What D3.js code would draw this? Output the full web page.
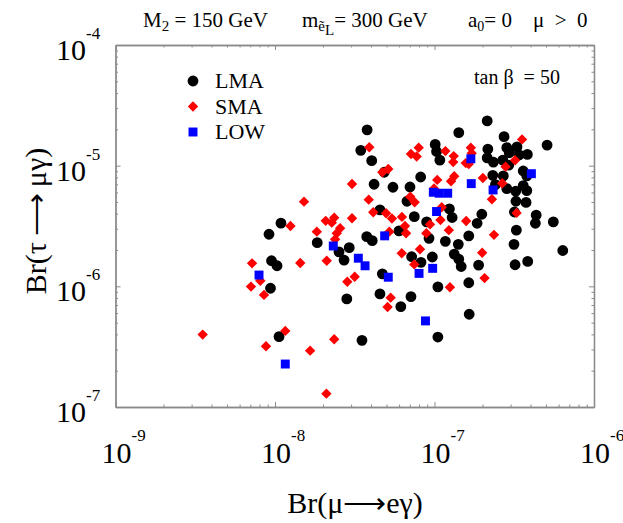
<!DOCTYPE html>
<html><head><meta charset="utf-8">
<script src="https://cdn.jsdelivr.net/npm/d3@7"></script>
<style>
body{margin:0;background:#fff}
svg{display:block}
text{font-family:"Liberation Serif","Times New Roman",serif;fill:#000}
</style>
</head><body>
<svg id="chart" width="623" height="523"></svg>
<script>
// Br(mu -> e gamma) and Br(tau -> mu gamma) for each solution class
const lmaBrMuE = [3.78e-8,3.45e-8,4.04e-8,1.01e-7,1.03e-7,1.08e-7,4.84e-8,8.19e-8,4.18e-8,5.49e-8,
  7.02e-8,6.72e-8,4.55e-8,7.47e-8,8.93e-8,2.14e-7,1.42e-7,2.73e-7,5.08e-7,2.16e-7,
  2.84e-7,3.29e-7,2.94e-7,3.39e-7,3.82e-7,2.14e-7,2.34e-7,2.68e-7,2.92e-7,3.60e-7,
  3.79e-7,2.32e-7,2.70e-7,2.41e-7,2.84e-7,3.23e-7,3.60e-7,3.79e-7,3.24e-7,3.75e-7,
  1.24e-7,1.29e-7,1.98e-7,3.17e-7,4.34e-7,5.56e-7,1.85e-7,4.29e-7,9.24e-8,3.26e-7,
  1.64e-7,1.17e-7,1.41e-7,3.15e-7,6.37e-7,1.33e-7,1.42e-7,1.47e-7,9.69e-8,8.23e-8,
  1.89e-7,3.20e-7,3.84e-7,1.64e-7,1.05e-7,1.65e-7,1.09e-8,9.17e-9,1.84e-8,2.52e-8,
  2.92e-8,2.71e-8,9.51e-9,1.03e-8,9.37e-9,2.82e-8,3.76e-8,4.07e-8,4.71e-8,4.55e-8,
  7.12e-8,6.15e-8,5.99e-8,7.19e-8,1.06e-8,3.51e-8,1.05e-7];
const lmaBrTauMu = [1.98e-5,1.34e-5,1.10e-5,1.50e-5,1.31e-5,1.11e-5,8.82e-6,8.06e-6,7.01e-6,6.62e-6,
  6.66e-6,5.07e-6,4.30e-6,3.78e-6,3.42e-6,2.35e-5,1.88e-5,1.74e-5,1.48e-5,1.37e-5,
  1.41e-5,1.43e-5,1.28e-5,1.23e-5,1.24e-5,1.16e-5,1.07e-5,1.11e-5,1.01e-5,9.04e-6,
  8.22e-6,8.32e-6,8.22e-6,6.96e-6,6.45e-6,6.14e-6,6.83e-6,6.21e-6,5.07e-6,4.96e-6,
  4.38e-6,3.72e-6,3.96e-6,4.13e-6,3.89e-6,3.42e-6,3.33e-6,3.33e-6,2.50e-6,2.92e-6,
  2.62e-6,2.36e-6,2.23e-6,2.23e-6,1.98e-6,1.85e-6,1.68e-6,1.46e-6,1.75e-6,1.58e-6,
  1.50e-6,1.51e-6,1.61e-6,1.07e-6,9.89e-7,5.87e-7,3.34e-6,2.70e-6,2.30e-6,1.93e-6,
  2.09e-6,1.65e-6,1.63e-6,1.48e-6,9.64e-7,7.86e-7,2.58e-6,2.39e-6,1.27e-6,8.65e-7,
  8.22e-7,6.79e-7,2.88e-6,1.76e-6,3.83e-7,3.57e-7,3.80e-7];

const smaBrMuE = [3.90e-8,7.96e-8,7.12e-8,7.73e-8,4.71e-8,5.13e-8,1.04e-7,3.04e-8,9.93e-8,1.52e-8,
  3.87e-8,7.05e-8,7.51e-8,4.13e-8,4.97e-8,5.41e-8,6.25e-8,2.35e-8,2.08e-8,3.04e-8,
  3.54e-7,1.17e-7,1.69e-7,1.71e-7,1.32e-7,1.31e-7,1.57e-7,1.64e-7,3.20e-7,2.79e-7,
  2.01e-7,1.33e-7,1.27e-7,2.66e-7,2.29e-7,1.11e-7,3.27e-7,1.58e-7,1.09e-7,9.37e-8,
  8.89e-8,1.23e-7,2.36e-7,8.11e-8,1.99e-7,2.06e-7,1.25e-7,1.25e-8,1.83e-8,2.27e-8,
  2.56e-8,2.44e-8,2.38e-8,2.11e-8,1.44e-8,3.16e-8,2.84e-8,6.53e-8,6.63e-8,5.21e-8,
  6.23e-8,7.47e-8,5.31e-8,5.08e-8,7.18e-9,8.09e-9,7.07e-9,8.53e-9,3.52e-9,8.78e-9,
  1.16e-8,1.66e-8,2.35e-8,2.10e-8];
const smaBrTauMu = [1.42e-5,1.41e-5,1.25e-5,1.19e-5,8.82e-6,9.39e-6,7.62e-6,7.05e-6,6.47e-6,5.03e-6,
  5.23e-6,5.53e-6,4.98e-6,4.11e-6,4.03e-6,3.65e-6,3.76e-6,3.70e-6,3.49e-6,3.67e-6,
  1.65e-5,1.32e-5,1.41e-5,1.27e-5,1.20e-5,1.07e-5,1.05e-5,1.03e-5,1.11e-5,9.81e-6,
  7.91e-6,8.17e-6,7.43e-6,7.15e-6,5.27e-6,4.52e-6,4.06e-6,3.48e-6,3.55e-6,3.26e-6,
  2.75e-6,2.92e-6,2.67e-6,2.03e-6,1.90e-6,1.17e-6,9.83e-7,3.16e-6,2.84e-6,3.37e-6,
  3.03e-6,2.75e-6,2.45e-6,1.63e-6,1.56e-6,1.20e-6,1.09e-6,3.16e-6,2.75e-6,2.84e-6,
  1.88e-6,1.52e-6,8.06e-7,6.75e-7,1.55e-6,1.11e-6,9.95e-7,8.49e-7,3.98e-7,3.19e-7,
  4.27e-7,2.93e-7,3.64e-7,1.29e-7];

const lowBrMuE = [9.83e-8,1.03e-7,1.69e-7,4.05e-7,1.70e-7,2.33e-7,1.07e-7,1.21e-7,9.74e-8,8.00e-8,
  8.78e-8,2.32e-8,3.33e-8,3.67e-8,4.87e-8,5.13e-8,7.94e-9,1.16e-8];
const lowBrTauMu = [6.02e-6,4.17e-6,1.14e-5,8.58e-6,7.10e-6,6.29e-6,5.91e-6,5.91e-6,1.41e-6,1.28e-6,
  5.17e-7,2.16e-6,1.71e-6,1.48e-6,2.62e-6,1.19e-6,1.24e-6,2.27e-7];

const seriesNames = ["LMA","SMA","LOW"];
const xTickExps = [-9,-8,-7,-6];
const yTickExps = [-7,-6,-5,-4];

const svg = d3.select("#chart");
const L = 115.5, R = 594, T = 45, B = 407;
const x = d3.scaleLog().domain([1e-9,1e-6]).range([L,R]);
const y = d3.scaleLog().domain([1e-7,1e-4]).range([B,T]);

const majorsX = xTickExps.map(e => Math.pow(10,e));
const majorsY = yTickExps.map(e => Math.pow(10,e));
function minors(exps){ const out=[]; for(let i=0;i<exps.length-1;i++){ for(let m=2;m<=9;m++) out.push(m*Math.pow(10,exps[i])); } return out; }
const minorsX = minors(xTickExps), minorsY = minors(yTickExps);

const axisColor = "#8a8a8a";
function styleAxis(g){ g.selectAll("path").attr("stroke",axisColor).attr("stroke-width",1.3); g.selectAll("line").attr("stroke",axisColor).attr("stroke-width",1); g.selectAll("text").remove(); }

// frame axes (ticks inward)
const defs = [
  [d3.axisBottom, x, B, "x"], [d3.axisTop, x, T, "x"],
  [d3.axisLeft, y, L, "y"], [d3.axisRight, y, R, "y"]
];
defs.forEach(([fn, sc, pos, dir]) => {
  const maj = dir==="x"?majorsX:majorsY, mn = dir==="x"?minorsX:minorsY;
  const tr = dir==="x" ? `translate(0,${pos})` : `translate(${pos},0)`;
  svg.append("g").attr("transform",tr).call(fn(sc).tickValues(mn).tickSize(-2.5).tickSizeOuter(0).tickFormat("")).call(styleAxis);
  svg.append("g").attr("transform",tr).call(fn(sc).tickValues(maj).tickSize(-5).tickSizeOuter(0).tickFormat("")).call(styleAxis);
});

// tick labels 10^n
xTickExps.forEach(e => {
  const px = x(Math.pow(10,e));
  const t = svg.append("text").attr("x",px-14).attr("y",463).attr("font-size",30);
  t.append("tspan").text("10");
  t.append("tspan").attr("font-size",17).attr("dy",-22).text(String(e));
});
yTickExps.forEach(e => {
  const py = y(Math.pow(10,e));
  const t = svg.append("text").attr("x",56).attr("y",py+15).attr("font-size",30);
  t.append("tspan").text("10");
  t.append("tspan").attr("font-size",17).attr("dy",-21).text(String(e));
});

// axis titles
svg.append("text").attr("x",355).attr("y",513).attr("font-size",30).attr("text-anchor","middle")
  .text("Br(\u03bc\u27f6e\u03b3)");
svg.append("text").attr("transform","translate(46,221) rotate(-90)").attr("font-size",30).attr("text-anchor","middle")
  .text("Br(\u03c4\u2009\u27f6\u2009\u03bc\u03b3)");

// header
const hs = 21;
const h1 = svg.append("text").attr("x",143).attr("y",27).attr("font-size",hs);
h1.append("tspan").text("M");
h1.append("tspan").attr("font-size",15).attr("dy",4).text("2");
h1.append("tspan").attr("dy",-4).text(" = 150 GeV");
const h2 = svg.append("text").attr("x",302).attr("y",27).attr("font-size",hs);
h2.append("tspan").text("m");
h2.append("tspan").attr("font-size",15).attr("dy",4).text("\u1ebd");
h2.append("tspan").attr("font-size",15).attr("dy",4).text("L");
h2.append("tspan").attr("dy",-8).text("= 300 GeV");
const h3 = svg.append("text").attr("x",468).attr("y",27).attr("font-size",hs);
h3.append("tspan").text("a");
h3.append("tspan").attr("font-size",14).attr("dy",4).text("0");
h3.append("tspan").attr("dy",-4).text("= 0");
svg.append("text").attr("x",533).attr("y",27).attr("font-size",hs).attr("xml:space","preserve").text("\u03bc  >  0");

svg.append("text").attr("x",474).attr("y",84).attr("font-size",20).attr("xml:space","preserve").text("tan \u03b2  = 50");

// markers
const colors = {LMA:"#000000", SMA:"#ff0000", LOW:"#0000ff"};
const shapes = {LMA:d3.symbolCircle, SMA:d3.symbolSquare, LOW:d3.symbolSquare};
const sizes = {LMA:92, SMA:54, LOW:80};
const data = {
  LMA: lmaBrMuE.map((v,i)=>({x:v,y:lmaBrTauMu[i]})),
  SMA: smaBrMuE.map((v,i)=>({x:v,y:smaBrTauMu[i]})),
  LOW: lowBrMuE.map((v,i)=>({x:v,y:lowBrTauMu[i]}))
};
function drawSeries(name, g){
  g.selectAll("path").data(data[name]).join("path")
    .attr("d", d3.symbol().type(shapes[name]).size(sizes[name]))
    .attr("transform", d => `translate(${x(d.x)},${y(d.y)})` + (name==="SMA"?" rotate(45)":""))
    .attr("fill", colors[name]);
}
seriesNames.forEach(n => drawSeries(n, svg.append("g")));

// legend
const lg = svg.append("g");
seriesNames.forEach((n,i) => {
  const ly = 81 + i*25.5;
  lg.append("path").attr("d", d3.symbol().type(shapes[n]).size(sizes[n])())
    .attr("transform", `translate(193,${ly})` + (n==="SMA"?" rotate(45)":"")).attr("fill", colors[n]);
  lg.append("text").attr("x",215).attr("y",ly+7).attr("font-size",22).text(n);
});
</script>
</body></html>
